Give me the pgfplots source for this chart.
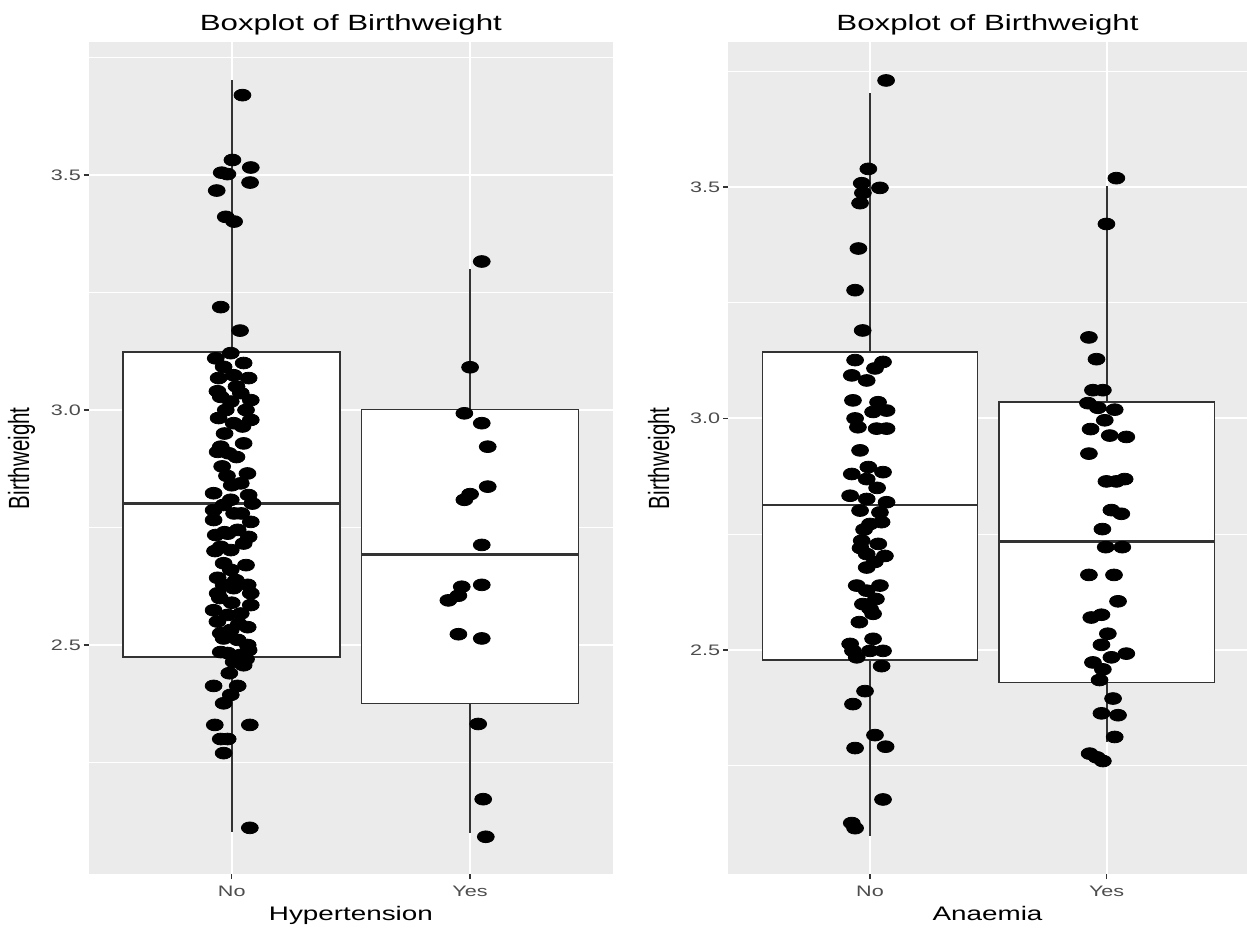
\documentclass[border=0pt]{standalone}
\usepackage{pgfplots}
\pgfplotsset{compat=1.18}
\usepackage{pgfplotstable}
\usepgfplotslibrary{statistics}
\usepackage{fontspec}
\setmainfont[FakeStretch=1.42]{Liberation Sans}
\newfontfamily\yfont[FakeStretch=0.704]{Liberation Sans}
\definecolor{panelbg}{HTML}{EBEBEB}
\definecolor{gtwenty}{HTML}{333333}
\definecolor{gthirty}{HTML}{4D4D4D}

\pgfplotstableread{
x y
1.045 3.670
1.003 3.532
1.080 3.516
0.982 3.502
0.958 3.505
1.077 3.484
0.937 3.467
0.975 3.411
1.010 3.401
0.954 3.219
1.035 3.169
0.996 3.121
0.933 3.110
0.966 3.092
0.945 3.068
1.071 3.068
1.008 3.074
0.954 3.028
1.038 3.036
1.080 3.021
0.996 3.018
0.945 2.983
1.008 2.972
1.080 2.979
1.045 2.965
0.954 2.922
1.050 2.929
0.987 2.908
0.941 2.911
1.066 2.865
1.038 2.844
0.924 2.823
1.071 2.819
0.996 2.809
1.087 2.801
0.924 2.787
0.966 2.798
0.924 2.766
1.080 2.762
0.933 2.734
0.983 2.737
1.071 2.730
1.025 2.745
0.954 2.709
1.050 2.716
0.996 2.702
0.966 2.674
0.996 2.660
0.941 2.643
1.017 2.638
1.067 2.628
0.966 2.628
0.941 2.610
1.080 2.610
1.008 2.621
1.080 2.585
0.924 2.574
0.983 2.564
1.038 2.567
1.067 2.538
0.954 2.525
0.996 2.532
1.025 2.511
0.966 2.514
1.067 2.500
0.983 2.483
1.038 2.479
1.071 2.489
0.954 2.485
1.050 2.457
1.008 2.464
0.924 2.413
1.025 2.413
0.996 2.394
0.966 2.376
0.929 2.330
1.076 2.330
0.954 2.300
0.983 2.300
0.966 2.270
1.076 2.111
1.020 3.050
0.975 3.000
0.970 2.950
1.020 2.900
0.980 2.860
1.010 2.780
0.950 2.600
1.030 2.545
0.990 2.440
1.050 3.100
0.940 3.040
1.060 3.000
0.960 2.880
1.040 2.780
0.930 2.700
1.060 2.670
1.000 2.590
0.940 2.550
1.060 2.470
1.000 2.840
0.970 2.740
}\hypNo

\pgfplotstableread{
x y
2.049 3.316
2.000 3.091
1.976 2.993
2.049 2.972
2.074 2.922
2.074 2.837
2.000 2.821
1.976 2.809
2.049 2.713
1.965 2.624
2.049 2.628
1.909 2.595
1.951 2.605
1.951 2.523
2.049 2.514
2.034 2.332
2.055 2.172
2.066 2.092
}\hypYes

\pgfplotstableread{
x y
1.068 3.730
0.993 3.539
0.965 3.508
1.042 3.498
0.970 3.487
0.958 3.465
0.951 3.367
0.937 3.277
0.969 3.190
0.937 3.126
1.055 3.122
1.021 3.108
0.923 3.093
0.986 3.082
0.928 3.039
1.034 3.035
1.070 3.017
1.013 3.014
0.937 3.000
0.949 2.981
1.028 2.978
1.070 2.978
0.958 2.931
0.923 2.880
0.993 2.895
1.055 2.884
0.986 2.869
0.916 2.833
0.986 2.826
1.070 2.819
0.958 2.801
1.042 2.797
1.000 2.772
1.049 2.776
0.965 2.736
1.035 2.729
0.986 2.707
1.063 2.703
0.986 2.678
0.944 2.639
1.042 2.639
0.986 2.628
0.970 2.599
1.013 2.578
1.000 2.589
0.916 2.513
1.013 2.524
1.055 2.498
0.944 2.484
1.000 2.498
1.049 2.465
0.928 2.498
0.979 2.411
0.928 2.383
1.021 2.316
0.937 2.288
1.066 2.291
1.055 2.177
0.923 2.126
0.937 2.115
0.960 2.720
1.020 2.690
0.975 2.760
1.030 2.850
1.025 2.610
0.955 2.560
}\anaNo

\pgfplotstableread{
x y
2.041 3.519
1.999 3.420
1.925 3.175
1.957 3.128
1.942 3.061
1.984 3.061
1.921 3.033
1.963 3.023
2.034 3.019
1.992 2.996
1.932 2.977
2.013 2.963
2.083 2.960
1.925 2.924
1.999 2.864
2.041 2.864
2.076 2.869
2.020 2.802
2.062 2.794
1.982 2.761
1.996 2.722
2.066 2.722
1.925 2.662
2.031 2.662
2.048 2.605
1.935 2.570
1.978 2.576
2.005 2.535
1.978 2.511
2.083 2.492
2.020 2.484
1.942 2.473
1.984 2.458
1.970 2.435
2.027 2.395
1.978 2.363
2.048 2.359
2.034 2.312
1.928 2.276
1.984 2.260
1.958 2.268
}\anaYes

\pgfplotsset{
  ggstyle/.style={
    scale only axis,
    height=415.75pt,
    xmin=0.4,
    axis background/.style={fill=panelbg},
    axis line style={draw=none},
    xtick={1,2}, xticklabels={No,Yes},
    ytick={2.5,3.0,3.5}, yticklabels={2.5,3.0,3.5},
    minor ytick={2.25,2.75,3.25,3.75},
    xmajorgrids, ymajorgrids, yminorgrids,
    major grid style={white, line width=1pt},
    minor grid style={white, line width=0.5pt},
    tick align=outside, tick pos=left,
    major tick length=2.5pt, minor tick length=0pt,
    tick style={gtwenty, line width=0.6pt},
    /pgf/number format/assume math mode=true,
    ticklabel style={font=\fontsize{7.6}{8}\selectfont, text=gthirty},
    yticklabel style={anchor=east, inner sep=0pt, xshift=-1.25pt},
    xticklabel style={anchor=base, inner sep=0pt, yshift=-8.7pt},
    every axis title shift=0pt,
    title style={font=\fontsize{11}{13}\selectfont, at={(axis description cs:0.5,1)}, anchor=base, yshift=6pt},
    xlabel style={font=\fontsize{9.8}{11}\selectfont, at={(axis description cs:0.5,0)}, anchor=base, yshift=-23pt},
    ylabel style={font=\yfont\fontsize{14.6}{15}\selectfont, at={(axis description cs:-0.128,0.5)}, anchor=center},
    title={Boxplot of Birthweight},
    ylabel={Birthweight},
  },
  ggbox/.style={draw=gtwenty, fill=white, line width=0.8pt},
  ggpts/.style={only marks, mark=*, mark size=2.95pt, mark options={xscale=1.43, draw=black, fill=black}},
}

\begin{document}
\begin{tikzpicture}
\useasboundingbox (0,0) rectangle (623.5pt,466pt);
\begin{axis}[ggstyle, at={(44.35pt,29pt)}, anchor=south west,
  width=262.2pt, xmax=2.6, ymin=2.0128, ymax=3.782, xlabel={Hypertension}]
  \addplot[ggbox, boxplot prepared={draw direction=y, lower whisker=2.103, lower quartile=2.475, median=2.801, upper quartile=3.124, upper whisker=3.702, draw position=1, box extend=0.91, whisker extend=0, every whisker/.style={line width=1pt}, every median/.style={line width=1.4pt}}] coordinates {};
  \addplot[ggbox, boxplot prepared={draw direction=y, lower whisker=2.099, lower quartile=2.376, median=2.692, upper quartile=3.001, upper whisker=3.301, draw position=2, box extend=0.91, whisker extend=0, every whisker/.style={line width=1pt}, every median/.style={line width=1.4pt}}] coordinates {};
  \addplot[ggpts] table[x=x, y=y] {\hypNo};
  \addplot[ggpts] table[x=x, y=y] {\hypYes};
\end{axis}
\begin{axis}[ggstyle, at={(364pt,29pt)}, anchor=south west,
  width=259.5pt, xmax=2.593, ymin=2.016, ymax=3.812, xlabel={Anaemia}]
  \addplot[ggbox, boxplot prepared={draw direction=y, lower whisker=2.099, lower quartile=2.478, median=2.813, upper quartile=3.144, upper whisker=3.702, draw position=1, box extend=0.91, whisker extend=0, every whisker/.style={line width=1pt}, every median/.style={line width=1.4pt}}] coordinates {};
  \addplot[ggbox, boxplot prepared={draw direction=y, lower whisker=2.302, lower quartile=2.430, median=2.734, upper quartile=3.036, upper whisker=3.501, draw position=2, box extend=0.91, whisker extend=0, every whisker/.style={line width=1pt}, every median/.style={line width=1.4pt}}] coordinates {};
  \addplot[ggpts] table[x=x, y=y] {\anaNo};
  \addplot[ggpts] table[x=x, y=y] {\anaYes};
\end{axis}
\end{tikzpicture}
\end{document}
